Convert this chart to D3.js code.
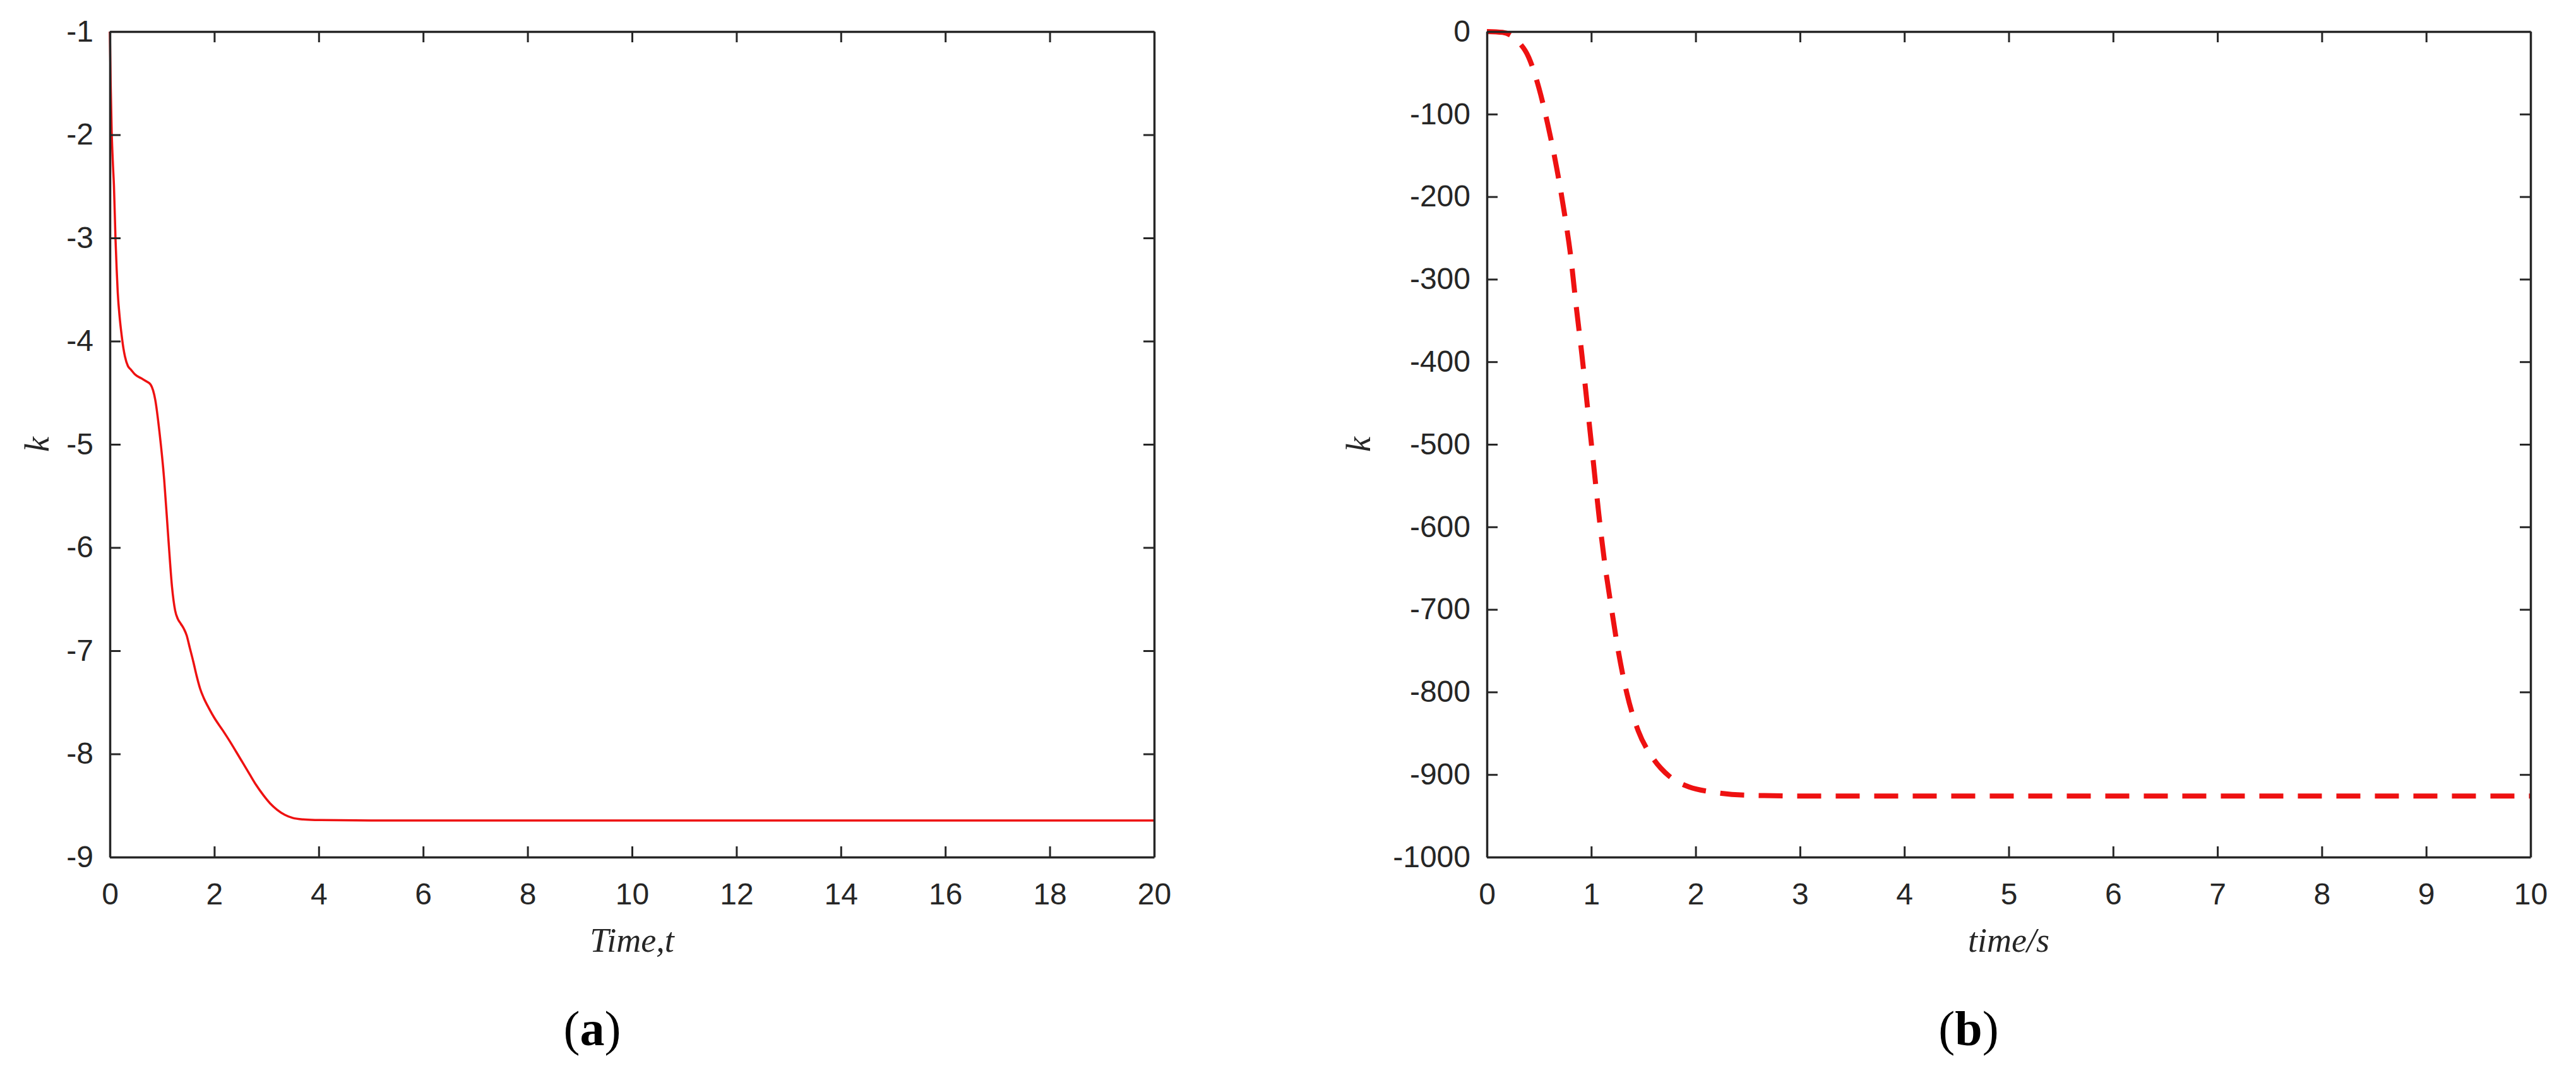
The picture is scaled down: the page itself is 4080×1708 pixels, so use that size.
<!DOCTYPE html>
<html>
<head>
<meta charset="utf-8">
<script src="https://cdn.jsdelivr.net/npm/d3@7"></script>
<style>
  body { margin: 0; background: #fff; }
  svg { display: block; }
</style>
</head>
<body>
<svg width="4080" height="1708"></svg>
<script>
// panel (a): k against Time,t
const timeA = [0, 0.015, 0.035, 0.06, 0.078, 0.108, 0.13, 0.151, 0.19, 0.225, 0.26, 0.29,
  0.345, 0.41, 0.475, 0.6, 0.7, 0.78, 0.87, 0.95, 1.04, 1.12, 1.19, 1.25, 1.3, 1.36,
  1.42, 1.47, 1.53, 1.6, 1.66, 1.73, 1.8, 1.9, 2.0, 2.16, 2.3, 2.42, 2.55, 2.68, 2.8,
  2.94, 3.07, 3.2, 3.35, 3.5, 3.7, 3.93, 5, 20];
const kA = [-1, -1.5, -1.97, -2.3, -2.49, -3.01, -3.3, -3.53, -3.78, -3.94, -4.07, -4.15,
  -4.24, -4.28, -4.32, -4.36, -4.39, -4.42, -4.57, -4.88, -5.34, -5.91, -6.38, -6.61, -6.69, -6.74,
  -6.79, -6.85, -6.97, -7.11, -7.24, -7.37, -7.46, -7.56, -7.65, -7.77, -7.88, -7.98, -8.09, -8.2, -8.3,
  -8.4, -8.48, -8.54, -8.59, -8.62, -8.635, -8.64, -8.645, -8.645];
const xTicksA = d3.range(0, 21, 2);
const yTicksA = d3.range(-9, 0, 1);

// panel (b): k against time/s
const timeB = [0, 0.15, 0.29, 0.4, 0.5, 0.586, 0.67, 0.748, 0.8, 0.856, 0.91, 0.964, 1.018,
  1.072, 1.126, 1.194, 1.26, 1.342, 1.45, 1.585, 1.747, 1.936, 2.15, 2.48, 3, 10];
const kB = [0, -1, -11, -31, -69, -114, -166, -224, -269, -333, -391, -455, -519,
  -584, -641, -699, -751, -802, -847, -879, -902, -915, -921, -925, -926, -926];
const xTicksB = d3.range(0, 11, 1);
const yTicksB = d3.range(-1000, 1, 100);

let svg = d3.select("svg");
svg.append("rect").attr("width", 4080).attr("height", 1708).attr("fill", "#fff");

const tickColour = "#262626";
const plotTop = 50, plotBottom = 1358;

function drawPanel(opt) {
  let x = d3.scaleLinear().domain(opt.xDomain).range([opt.left, opt.right]);
  let y = d3.scaleLinear().domain(opt.yDomain).range([plotBottom, plotTop]);
  let g = svg.append("g");

  // the curve
  let pts = opt.t.map((t, i) => [t, opt.k[i]]);
  let line = d3.line()
    .x(d => x(d[0]))
    .y(d => y(d[1]))
    .curve(d3.curveMonotoneX);
  g.append("path")
    .datum(pts)
    .attr("d", line)
    .attr("fill", "none")
    .attr("stroke", "#ee1111")
    .attr("stroke-width", opt.lineWidth)
    .attr("stroke-dasharray", opt.dash);

  // four axes, ticks pointing inwards
  let fmt = d => String(d);
  let bottomAxis = d3.axisBottom(x).tickValues(opt.xTicks).tickFormat(fmt)
    .tickSizeInner(-17).tickSizeOuter(0).tickPadding(41);
  let leftAxis = d3.axisLeft(y).tickValues(opt.yTicks).tickFormat(fmt)
    .tickSizeInner(-17).tickSizeOuter(0).tickPadding(26);
  let topAxis = d3.axisTop(x).tickValues(opt.xTicks).tickFormat("")
    .tickSizeInner(-17).tickSizeOuter(0);
  let rightAxis = d3.axisRight(y).tickValues(opt.yTicks).tickFormat("")
    .tickSizeInner(-17).tickSizeOuter(0);

  let axes = [
    [bottomAxis, `translate(0,${plotBottom})`],
    [leftAxis, `translate(${opt.left},0)`],
    [topAxis, `translate(0,${plotTop})`],
    [rightAxis, `translate(${opt.right},0)`]
  ];
  axes.forEach(([ax, tr]) => {
    let a = g.append("g").attr("transform", tr).call(ax);
    a.select(".domain").attr("stroke", tickColour).attr("stroke-width", 3.5);
    a.selectAll(".tick line").attr("stroke", tickColour).attr("stroke-width", 3);
    a.selectAll(".tick text")
      .attr("fill", tickColour)
      .style("font-family", "'Liberation Sans', Arial, sans-serif")
      .style("font-size", "48px");
  });

  // axis titles
  g.append("text")
    .attr("x", (opt.left + opt.right) / 2)
    .attr("y", 1508)
    .attr("text-anchor", "middle")
    .attr("fill", tickColour)
    .style("font-family", "'Liberation Serif', 'Times New Roman', serif")
    .style("font-style", "italic")
    .style("font-size", "54px")
    .text(opt.xTitle);

  g.append("text")
    .attr("transform", `translate(${opt.kX},704) rotate(-90)`)
    .attr("text-anchor", "middle")
    .attr("fill", tickColour)
    .style("font-family", "'Liberation Serif', 'Times New Roman', serif")
    .style("font-style", "italic")
    .style("font-size", "54px")
    .text("k");

  // panel letter
  let lab = g.append("text")
    .attr("x", opt.labelX)
    .attr("y", 1656)
    .attr("text-anchor", "middle")
    .attr("fill", "#000")
    .style("font-family", "'Liberation Serif', 'Times New Roman', serif")
    .style("font-size", "78px");
  lab.append("tspan").text("(");
  lab.append("tspan").style("font-weight", "bold").text(opt.letter);
  lab.append("tspan").text(")");
}

drawPanel({
  left: 174, right: 1828,
  xDomain: [0, 20], yDomain: [-9, -1],
  xTicks: xTicksA, yTicks: yTicksA,
  t: timeA, k: kA,
  lineWidth: 3.5, dash: null,
  xTitle: "Time,t", kX: 77,
  letter: "a", labelX: 938
});

drawPanel({
  left: 2355, right: 4008,
  xDomain: [0, 10], yDomain: [-1000, 0],
  xTicks: xTicksB, yTicks: yTicksB,
  t: timeB, k: kB,
  lineWidth: 8, dash: "38,23",
  xTitle: "time/s", kX: 2170,
  letter: "b", labelX: 3118
});
</script>
</body>
</html>
